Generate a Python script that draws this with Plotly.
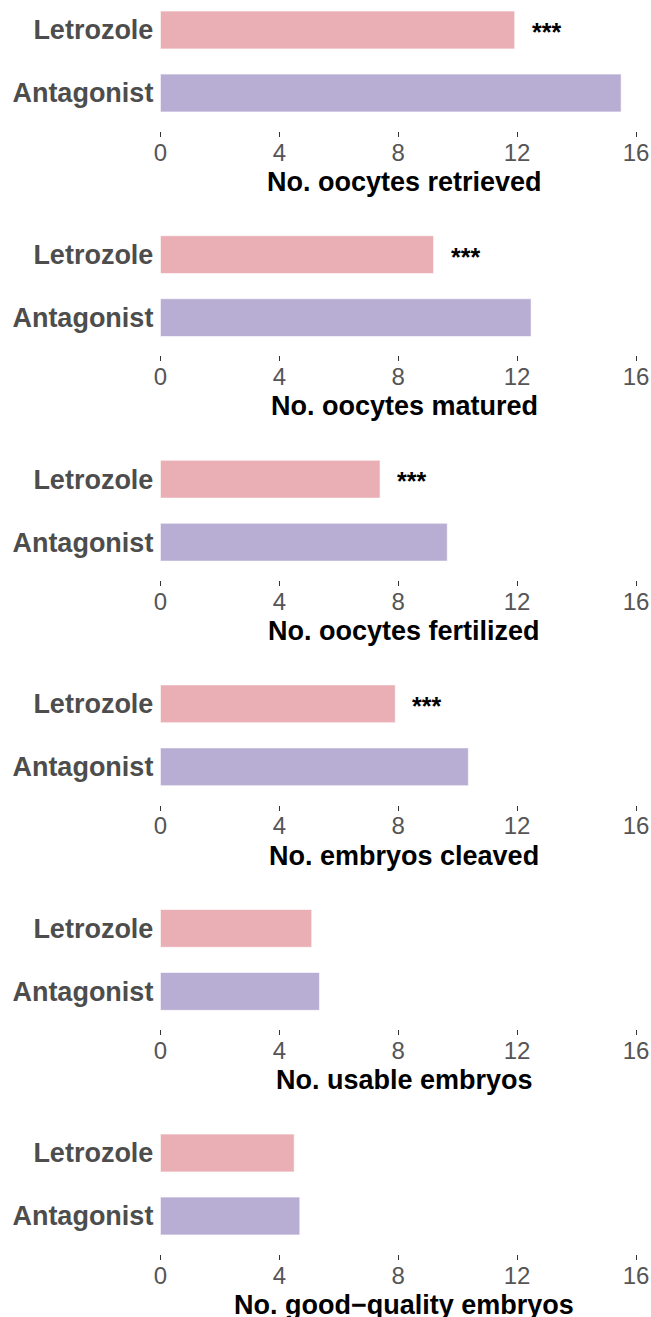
import plotly.graph_objects as go

# ---- data ----
groups = ["Letrozole", "Antagonist"]
outcomes = [
    "No. oocytes retrieved",
    "No. oocytes matured",
    "No. oocytes fertilized",
    "No. embryos cleaved",
    "No. usable embryos",
    "No. good\u2212quality embryos",
]
letrozole = [11.92, 9.19, 7.39, 7.90, 5.09, 4.50]
antagonist = [15.50, 12.47, 9.65, 10.36, 5.35, 4.69]
significance = ["***", "***", "***", "***", "", ""]
x_ticks = [0, 4, 8, 12, 16]

# ---- style ----
W, H = 651, 1317
PINK = "#EAAEB5"
PURPLE = "#B8ADD2"
GREY = "#4D4D4D"
FONT = "Liberation Sans"
X0, X1 = 160.4, 636.0          # panel left/right in px
UNIT = 63.0                    # px per category step
FIRST_C = 30.0                 # px center of first Letrozole bar
STEP = 224.6                   # px between panels
TITLE_X = 404.0                # px center of axis titles
TITLE_DY = 51.0                # px from panel bottom to title center

fig = go.Figure()
for k, name in enumerate(outcomes):
    n = k + 1
    xa = "x" if n == 1 else f"x{n}"
    ya = "y" if n == 1 else f"y{n}"
    fig.add_trace(go.Bar(
        y=groups, x=[letrozole[k], antagonist[k]], orientation="h",
        marker=dict(color=[PINK, PURPLE], line=dict(color="white", width=0.6)),
        width=0.6, xaxis=xa, yaxis=ya, showlegend=False, hoverinfo="x+y",
    ))
    cL = FIRST_C + STEP * k
    top_px = max(0.0, cL - 0.6 * UNIT)
    bot_px = cL + UNIT + 0.6 * UNIT
    r_top = 1 + (cL - top_px) / UNIT
    xkey = "xaxis" if n == 1 else f"xaxis{n}"
    ykey = "yaxis" if n == 1 else f"yaxis{n}"
    fig.update_layout(**{
        xkey: dict(
            domain=[X0 / W, X1 / W], anchor=ya, range=[0, 16],
            tickvals=x_ticks, ticks="outside", ticklen=5, tickwidth=1.2,
            tickcolor="#333333", showgrid=False, zeroline=False,
            showline=False, automargin=False, ticklabelstandoff=-5,
            tickfont=dict(family=FONT, size=24, color="#555555"),
        ),
        ykey: dict(
            domain=[1 - bot_px / H, 1 - top_px / H], anchor=xa,
            type="category", categoryorder="array",
            categoryarray=groups[::-1], range=[-0.6, r_top],
            showgrid=False, zeroline=False, showline=False, ticks="",
            automargin=False, ticklabelstandoff=6,
            tickfont=dict(family=FONT, size=27, color=GREY, weight="bold"),
        ),
    })
    fig.add_annotation(
        x=TITLE_X / W, y=1 - (bot_px + TITLE_DY) / H, xref="paper", yref="paper",
        text=name, showarrow=False, xanchor="center", yanchor="middle",
        font=dict(family=FONT, size=27, color="black", weight="bold"),
    )
    if significance[k]:
        fig.add_annotation(
            x=letrozole[k], y=groups[0], xref=xa, yref=ya,
            text=significance[k], showarrow=False, xanchor="left",
            yanchor="middle", xshift=15, yshift=-2,
            font=dict(family=FONT, size=25, color="black", weight="bold"),
        )

fig.update_layout(
    width=W, height=H, margin=dict(l=0, r=0, t=0, b=0),
    paper_bgcolor="white", plot_bgcolor="white", bargap=0.4,
)
fig.write_html(
    "out.html",
    config={"displayModeBar": False},
    post_script="document.body.style.margin='0';document.body.style.overflow='hidden';",
)
